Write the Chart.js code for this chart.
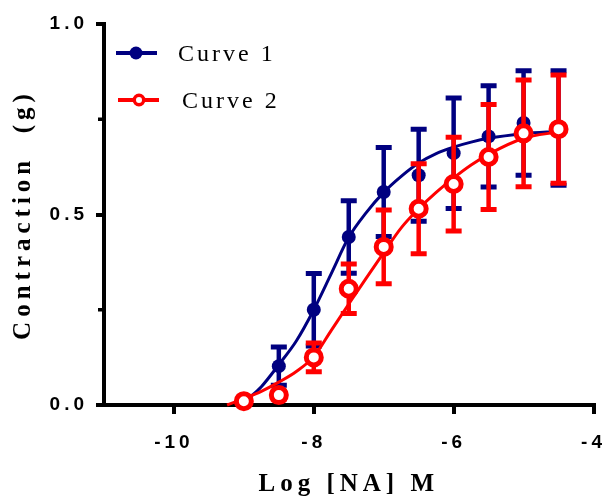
<!DOCTYPE html>
<html lang="en">
<head>
  <meta charset="UTF-8" />
  <title>Contraction vs Log [NA]</title>
  <script src="https://cdn.jsdelivr.net/npm/chart.js"></script>
  <style>
    body { margin: 0; background: #fff; }
  </style>
</head>
<body>
  <canvas id="doseChart" width="606" height="498"></canvas>
  <script>
    // Measured points (mean +/- SEM)
    const logDose = [-9, -8.5, -8, -7.5, -7, -6.5, -6, -5.5, -5, -4.5];
    const curve1Mean = [0.008, 0.102, 0.25, 0.441, 0.559, 0.603, 0.661, 0.705, 0.74, 0.727];
    const curve1Sem = [0.005, 0.05, 0.095, 0.095, 0.117, 0.121, 0.145, 0.133, 0.137, 0.15];
    const curve2Mean = [0.01, 0.026, 0.125, 0.305, 0.415, 0.515, 0.58, 0.651, 0.713, 0.724];
    const curve2Sem = [0.004, 0.01, 0.038, 0.065, 0.097, 0.118, 0.123, 0.138, 0.14, 0.142];

    // Fitted curves
    const fit1X = [-9.03, -9, -8.75, -8.5, -8.25, -8, -7.75, -7.5, -7.25, -7, -6.75, -6.5, -6.25, -6, -5.75, -5.5, -5, -4.5];
    const fit1Y = [0, 0.006, 0.048, 0.106, 0.168, 0.25, 0.345, 0.44, 0.505, 0.558, 0.6, 0.635, 0.66, 0.677, 0.69, 0.7, 0.712, 0.718];
    const fit2X = [-9.24, -9, -8.75, -8.5, -8.25, -8, -7.75, -7.5, -7.25, -7, -6.75, -6.5, -6.25, -6, -5.75, -5.5, -5, -4.5];
    const fit2Y = [0, 0.017, 0.036, 0.06, 0.088, 0.127, 0.196, 0.265, 0.333, 0.4, 0.465, 0.515, 0.558, 0.596, 0.63, 0.658, 0.7, 0.717];

    const xTicks = [-10, -8, -6, -4];
    const yTicks = [0, 0.5, 1.0];
    const yMinorTicks = [0.25, 0.75];

    const seriesNames = ["Curve 1", "Curve 2"];
    const blue = "#000080";
    const red = "#ff0000";

    const pts = (xs, ys) => xs.map((x, i) => ({ x: x, y: ys[i] }));

    // error bars, drawn just before the point dataset
    const errorBars = {
      id: "errorBars",
      beforeDatasetDraw(chart, args) {
        const ds = chart.data.datasets[args.index];
        if (!ds.errors) return;
        const { ctx, scales: { x, y } } = chart;
        ctx.save();
        ctx.strokeStyle = ds.pointBorderColor;
        ds.data.forEach((p, i) => {
          const px = x.getPixelForValue(p.x);
          const top = y.getPixelForValue(p.y + ds.errors[i]);
          const bot = y.getPixelForValue(p.y - ds.errors[i]);
          ctx.lineWidth = 4.5;
          ctx.beginPath();
          ctx.moveTo(px, top);
          ctx.lineTo(px, bot);
          ctx.stroke();
          ctx.lineWidth = 5;
          ctx.beginPath();
          ctx.moveTo(px - 8, top);
          ctx.lineTo(px + 8, top);
          ctx.moveTo(px - 8, bot);
          ctx.lineTo(px + 8, bot);
          ctx.stroke();
        });
        ctx.restore();
      }
    };

    // spaced lettering like the original export
    const spacing = {
      id: "spacing",
      beforeLayout(chart) { chart.ctx.letterSpacing = "4px"; },
      beforeDraw(chart) {
        chart.ctx.letterSpacing = "4px";
        ["x", "y"].forEach(id => {
          const s = chart.scales[id];
          if (s._spaced) return;
          const orig = s.drawTitle;
          s.drawTitle = function () {
            this.ctx.save();
            this.ctx.letterSpacing = "5px";
            orig.apply(this, arguments);
            this.ctx.restore();
          };
          s._spaced = true;
        });
      }
    };

    // short minor ticks on the y axis
    const minorTicks = {
      id: "minorTicks",
      afterDraw(chart) {
        const { ctx, chartArea, scales: { y } } = chart;
        ctx.save();
        ctx.strokeStyle = "#000";
        ctx.lineWidth = 3.5;
        yMinorTicks.forEach(v => {
          const py = y.getPixelForValue(v);
          ctx.beginPath();
          ctx.moveTo(chartArea.left - 2, py);
          ctx.lineTo(chartArea.left - 6, py);
          ctx.stroke();
        });
        ctx.restore();
      }
    };

    // legend inside the plot: line + marker + label
    const insideLegend = {
      id: "insideLegend",
      afterDraw(chart) {
        const ctx = chart.ctx;
        ctx.save();
        ctx.letterSpacing = "3px";
        ctx.font = '24px "Liberation Serif"';
        ctx.textBaseline = "middle";
        ctx.fillStyle = "#000";
        ctx.lineWidth = 4;

        ctx.strokeStyle = blue;
        ctx.beginPath(); ctx.moveTo(116, 53); ctx.lineTo(157, 53); ctx.stroke();
        ctx.fillStyle = blue;
        ctx.beginPath(); ctx.arc(136, 53, 6.5, 0, Math.PI * 2); ctx.fill();
        ctx.fillStyle = "#000";
        ctx.fillText(seriesNames[0], 178, 55);

        ctx.strokeStyle = red;
        ctx.beginPath(); ctx.moveTo(118, 100); ctx.lineTo(159, 100); ctx.stroke();
        ctx.fillStyle = "#fff";
        ctx.lineWidth = 3.5;
        ctx.beginPath(); ctx.arc(139, 100, 4.75, 0, Math.PI * 2); ctx.fill(); ctx.stroke();
        ctx.fillStyle = "#000";
        ctx.fillText(seriesNames[1], 182, 102);
        ctx.restore();
      }
    };

    const ctx = document.getElementById("doseChart").getContext("2d");
    new Chart(ctx, {
      type: "line",
      data: {
        datasets: [
          {
            label: seriesNames[1],
            data: pts(logDose, curve2Mean),
            errors: curve2Sem,
            showLine: false,
            pointRadius: 7.5,
            pointBorderWidth: 5,
            pointBackgroundColor: "#fff",
            pointBorderColor: red,
            clip: false,
            order: 1
          },
          {
            label: seriesNames[1] + " fit",
            data: pts(fit2X, fit2Y),
            borderColor: red,
            borderWidth: 3,
            pointRadius: 0,
            cubicInterpolationMode: "monotone",
            clip: false,
            order: 2
          },
          {
            label: seriesNames[0],
            data: pts(logDose, curve1Mean),
            errors: curve1Sem,
            showLine: false,
            pointRadius: 7,
            pointBorderWidth: 0,
            pointBackgroundColor: blue,
            pointBorderColor: blue,
            clip: false,
            order: 3
          },
          {
            label: seriesNames[0] + " fit",
            data: pts(fit1X, fit1Y),
            borderColor: blue,
            borderWidth: 3,
            pointRadius: 0,
            cubicInterpolationMode: "monotone",
            clip: false,
            order: 4
          }
        ]
      },
      options: {
        responsive: false,
        animation: false,
        events: [],
        layout: { padding: { left: 11, top: 24, right: 9, bottom: 1 } },
        plugins: {
          legend: { display: false },
          tooltip: { enabled: false }
        },
        scales: {
          x: {
            type: "linear",
            min: -11,
            max: -4,
            afterBuildTicks: s => { s.ticks = xTicks.map(v => ({ value: v })); },
            afterFit: s => { s.height = 92; s.paddingLeft = 0; s.paddingRight = 0; },
            border: { display: true, width: 4, color: "#000" },
            grid: { drawOnChartArea: false, drawTicks: true, tickLength: 9, lineWidth: 4, color: "#000" },
            ticks: {
              autoSkip: false,
              maxRotation: 0,
              padding: 17,
              color: "#000",
              font: { family: "Liberation Sans", size: 19, weight: "bold" },
              callback: v => String(v)
            },
            title: {
              display: true,
              text: "Log [NA] M",
              color: "#000",
              padding: 0,
              font: { family: "Liberation Serif", size: 25, weight: "bold", lineHeight: 1 }
            }
          },
          y: {
            min: 0,
            max: 1,
            afterBuildTicks: s => { s.ticks = yTicks.map(v => ({ value: v })); },
            afterFit: s => { s.width = 93; s.paddingTop = 0; s.paddingBottom = 0; },
            border: { display: true, width: 4, color: "#000" },
            grid: { drawOnChartArea: false, drawTicks: true, tickLength: 8, lineWidth: 4, color: "#000" },
            ticks: {
              padding: 8,
              color: "#000",
              font: { family: "Liberation Sans", size: 19, weight: "bold" },
              callback: v => Number(v).toFixed(1)
            },
            title: {
              display: true,
              text: "Contraction  (g)",
              color: "#000",
              padding: 0,
              font: { family: "Liberation Serif", size: 25, weight: "bold", lineHeight: 1 }
            }
          }
        }
      },
      plugins: [spacing, errorBars, minorTicks, insideLegend]
    });
  </script>
</body>
</html>
